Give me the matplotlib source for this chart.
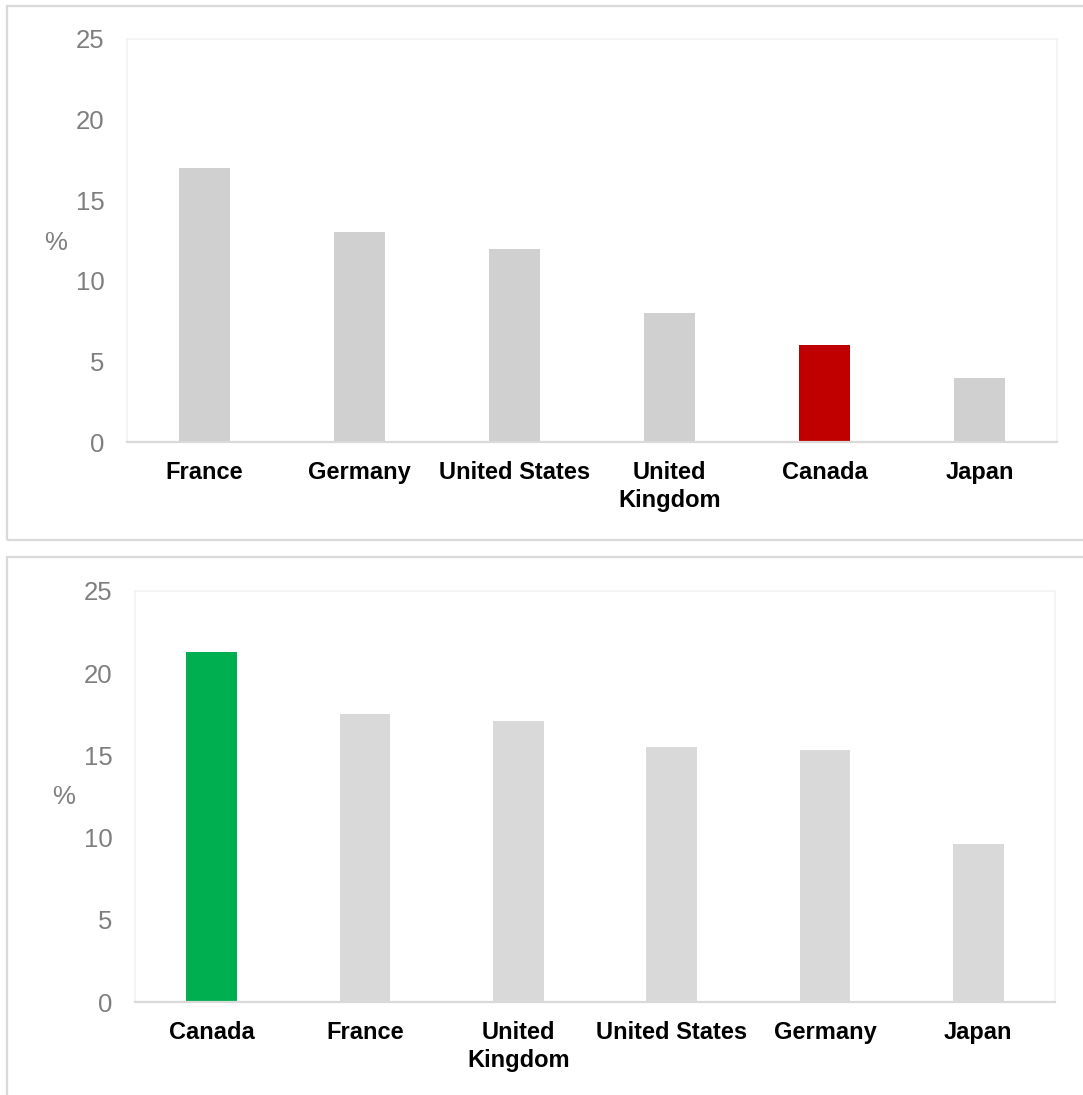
import matplotlib

matplotlib.use("Agg")
import matplotlib.pyplot as plt
import numpy as np
from matplotlib.patches import Rectangle

# data
top_countries = ["France", "Germany", "United States", "United\nKingdom", "Canada", "Japan"]
top_values = [17.0, 13.0, 12.0, 8.0, 6.0, 4.0]
top_highlight = "Canada"

bottom_countries = ["Canada", "France", "United\nKingdom", "United States", "Germany", "Japan"]
bottom_values = [21.3, 17.5, 17.1, 15.5, 15.3, 9.6]
bottom_highlight = "Canada"

y_ticks = [0, 5, 10, 15, 20, 25]

W, H = 1083, 1095
DPI = 100

plt.rcParams["font.family"] = ["Liberation Sans", "DejaVu Sans"]

fig = plt.figure(figsize=(W / DPI, H / DPI), dpi=DPI)


def px_axes(left, top, right, bottom):
    return fig.add_axes([left / W, 1 - bottom / H, (right - left) / W, (bottom - top) / H])


def panel_box(left, top, right, bottom):
    rect = Rectangle(
        (left / W, 1 - bottom / H), (right - left) / W, (bottom - top) / H,
        transform=fig.transFigure, fill=False, edgecolor="#d9d9d9", linewidth=1.6,
    )
    fig.patches.append(rect)


def draw_bars(ax, countries, values, highlight, hl_color, bar_gray, ylab_xy):
    x = np.arange(len(countries))
    colors = [hl_color if c == highlight else bar_gray for c in countries]
    ax.bar(x, values, width=0.33, color=colors)
    ax.set_xlim(-0.5, len(countries) - 0.5)
    ax.set_ylim(0, 25)
    ax.set_yticks(y_ticks)
    ax.set_yticklabels([str(t) for t in y_ticks])
    ax.set_xticks(x)
    ax.set_xticklabels(countries, fontsize=17, fontweight="bold", color="black", linespacing=1.25)
    ax.tick_params(axis="x", length=0, pad=14)
    ax.tick_params(axis="y", length=0, pad=16, labelsize=18.5, labelcolor="#7f7f7f")
    for side in ["left", "top", "right"]:
        ax.spines[side].set_color("#f2f2f2")
        ax.spines[side].set_linewidth(1.2)
    ax.spines["bottom"].set_color("#d9d9d9")
    ax.spines["bottom"].set_linewidth(1.6)
    ax.text(ylab_xy[0], ylab_xy[1], "%", transform=ax.transAxes, fontsize=18.5, color="#7f7f7f",
            ha="center", va="center")


panel_box(7, 6, 1095, 540)
panel_box(7, 557, 1095, 1110)

ax1 = px_axes(127, 39, 1057, 442)
draw_bars(ax1, top_countries, top_values, top_highlight, "#c00000", "#d0d0d0", (-0.077, 0.494))

ax2 = px_axes(135, 591, 1055, 1002)
draw_bars(ax2, bottom_countries, bottom_values, bottom_highlight, "#00b050", "#d9d9d9", (-0.078, 0.499))

plt.savefig("out.png", dpi=DPI)
plt.close()
